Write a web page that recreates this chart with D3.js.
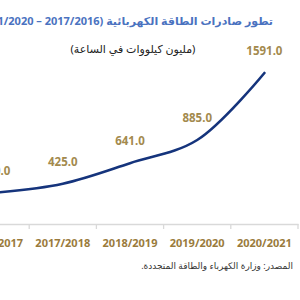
<!doctype html>
<html>
<head>
<meta charset="utf-8"/>
<script src="https://d3js.org/d3.v7.min.js"></script>
<style>
	body { margin: 0; background: #fff; }
	svg { display: block; font-family: "Noto Sans", "DejaVu Sans", sans-serif; }
</style>
</head>
<body>
<svg id="chart"></svg>
<script>
	// data
	var years = ["2016/2017", "2017/2018", "2018/2019", "2019/2020", "2020/2021"];
	var exports = [330.0, 425.0, 641.0, 885.0, 1591.0];

	var width = 300, height = 300;
	var svg = d3.select("#chart")
		.attr("width", width)
		.attr("height", height);

	// scales - the chart is cropped on the left, first year sits off the edge
	var x = d3.scaleBand()
		.domain(years)
		.range([-38, 298]);

	var y = d3.scaleLinear()
		.domain([0, 1591])
		.range([224, 73]);

	var cx = function(d){ return x(d) + x.bandwidth() / 2; };

	// titre
	svg.append("text")
		.attr("x", 273)
		.attr("y", 25)
		.style("direction", "rtl")
		.attr("text-anchor", "start")
		.style("font-size", "11px")
		.style("font-weight", "bold")
		.attr("fill", "#4a72c0")
		.text("تطور صادرات الطاقة الكهربائية (2017/2016 – 2021/2020)");

	svg.append("text")
		.attr("x", 133)
		.attr("y", 53)
		.style("direction", "rtl")
		.attr("text-anchor", "middle")
		.style("font-size", "11px")
		.attr("fill", "#222")
		.text("(مليون كيلووات في الساعة)");

	// x axis
	var xAxis = d3.axisBottom(x).tickSize(0).tickPadding(15);
	var gx = svg.append("g")
		.attr("transform", "translate(0,224)")
		.call(xAxis);
	gx.select(".domain").attr("stroke", "#d9d9d9").attr("stroke-width", 1.3);
	gx.selectAll("text")
		.style("font-size", "11px")
		.style("font-weight", "bold")
		.style("font-family", "\"Noto Sans\", sans-serif")
		.attr("fill", "#9a7b3c");

	// separator ticks between the categories
	gx.selectAll(".sep")
		.data(years)
		.enter()
		.append("line")
		.attr("class", "sep")
		.attr("x1", function(d){ return x(d) + x.bandwidth(); })
		.attr("x2", function(d){ return x(d) + x.bandwidth(); })
		.attr("y1", 0)
		.attr("y2", 5)
		.attr("stroke", "#d9d9d9")
		.attr("stroke-width", 1.3);

	// line
	var line = d3.line()
		.x(function(d, i){ return cx(years[i]); })
		.y(function(d){ return y(d); })
		.curve(d3.curveCatmullRom.alpha(0.5));

	svg.append("path")
		.datum(exports)
		.attr("d", line)
		.attr("fill", "none")
		.attr("stroke", "#15347c")
		.attr("stroke-width", 2.6)
		.attr("stroke-linecap", "round");

	// values
	svg.selectAll(".val")
		.data(exports)
		.enter()
		.append("text")
		.attr("class", "val")
		.attr("x", function(d, i){ return cx(years[i]); })
		.attr("y", function(d){ return y(d) - 18; })
		.attr("text-anchor", "middle")
		.style("font-size", "11.5px")
		.style("font-weight", "bold")
		.attr("fill", "#a38a4e")
		.text(function(d){ return d.toFixed(1); });

	// source
	svg.append("text")
		.attr("x", 293)
		.attr("y", 269)
		.style("direction", "rtl")
		.attr("text-anchor", "start")
		.style("font-size", "9px")
		.attr("fill", "#333")
		.text("المصدر: وزارة الكهرباء والطاقة المتجددة.");
</script>
</body>
</html>
